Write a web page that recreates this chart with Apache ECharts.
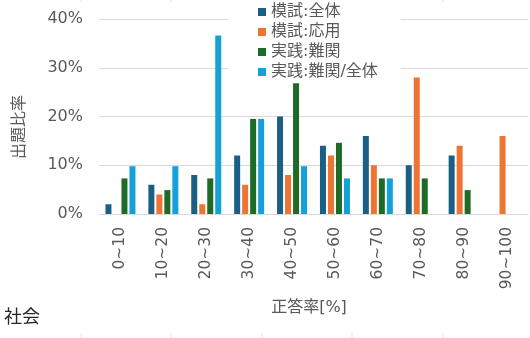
<!DOCTYPE html>
<html><head><meta charset="utf-8">
<script src="https://cdn.jsdelivr.net/npm/echarts@6/dist/echarts.min.js"></script>
<style>html,body{margin:0;padding:0;background:#fff}#c{width:530px;height:338px}</style>
</head><body><div id="c"></div>
<script>
const categories = ['0~10','10~20','20~30','30~40','40~50','50~60','60~70','70~80','80~90','90~100'];
const seriesNames = ['模試:全体','模試:応用','実践:難関','実践:難関/全体'];
const moshiZentai = [2, 6, 8, 12, 20, 14, 16, 10, 12, 0];
const moshiOyo = [0, 4, 2, 6, 8, 12, 10, 28, 14, 16];
const jissenNankan = [7.3, 4.9, 7.3, 19.5, 26.8, 14.6, 7.3, 7.3, 4.9, 0];
const jissenNankanZentai = [9.8, 9.8, 36.6, 19.5, 9.8, 7.3, 7.3, 0, 0, 0];
const yTicks = [0, 10, 20, 30, 40];
const colors = ['#1a5f84', '#ed7431', '#1d6b26', '#14a0d9'];
const allValues = [moshiZentai, moshiOyo, jissenNankan, jissenNankanZentai];

const FONT = '"DejaVu Sans", "Noto Sans CJK JP", sans-serif';
const chart = echarts.init(document.getElementById('c'), null, {renderer: 'canvas'});
const faintX = [81, 171, 262, 352, 443];
const graphics = [
  {type: 'text', x: 20, y: 127, rotation: Math.PI / 2,
   style: {text: '出題比率', fill: '#595959', font: '16px ' + FONT, textAlign: 'center', textVerticalAlign: 'middle'}},
  {type: 'text', x: 309, y: 308,
   style: {text: '正答率[%]', fill: '#595959', font: '16px ' + FONT, textAlign: 'center', textVerticalAlign: 'middle'}},
  {type: 'text', x: 4, y: 318,
   style: {text: '社会', fill: '#262626', font: '18px ' + FONT, textAlign: 'left', textVerticalAlign: 'middle'}}
];
faintX.forEach(function (x) {
  graphics.push({type: 'line', shape: {x1: x, y1: 0, x2: x, y2: 2}, style: {stroke: '#e4e4e4', lineWidth: 1}});
  graphics.push({type: 'line', shape: {x1: x, y1: 333, x2: x, y2: 338}, style: {stroke: '#e4e4e4', lineWidth: 1}});
});

chart.setOption({
  animation: false,
  color: colors,
  textStyle: {fontFamily: FONT},
  grid: {left: 99, right: 2, top: 19, bottom: 124, containLabel: false},
  legend: {
    orient: 'vertical', left: 228, top: 0,
    padding: [4, 23, 2, 30],
    backgroundColor: '#fff',
    itemWidth: 8, itemHeight: 8, itemGap: 4, itemTextGap: 6,
    icon: 'rect',
    textStyle: {color: '#595959', fontSize: 16, fontFamily: FONT, lineHeight: 16},
    data: seriesNames
  },
  xAxis: {
    type: 'category', data: categories,
    axisLine: {show: true, lineStyle: {color: '#d9d9d9', width: 1}},
    axisTick: {show: false},
    axisLabel: {rotate: 90, color: '#595959', fontSize: 15.5, fontFamily: FONT, margin: 13, interval: 0}
  },
  yAxis: {
    type: 'value', min: yTicks[0], max: yTicks[yTicks.length - 1], interval: 10,
    axisLine: {show: false}, axisTick: {show: false},
    splitLine: {lineStyle: {color: '#d9d9d9', width: 1}},
    axisLabel: {formatter: '{value}%', color: '#595959', fontSize: 16, fontFamily: FONT, margin: 16}
  },
  series: seriesNames.map(function (name, i) {
    return {
      name: name, type: 'bar', data: allValues[i],
      barWidth: 6, barGap: '33.3%',
      itemStyle: {color: colors[i]}
    };
  }),
  graphic: graphics
});
</script></body></html>
